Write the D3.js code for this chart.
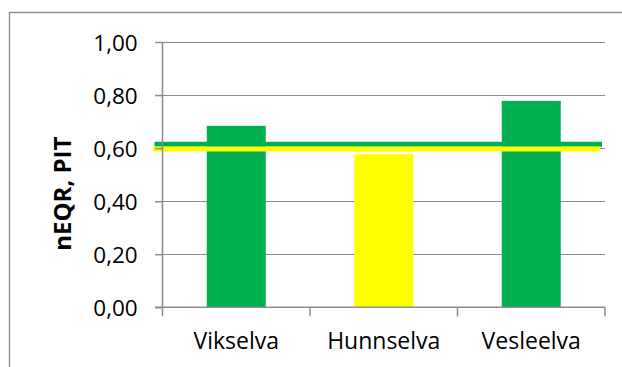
<!DOCTYPE html>
<html>
<head>
<meta charset="utf-8">
<script src="https://cdn.jsdelivr.net/npm/d3@7"></script>
<style>
  html, body { margin: 0; padding: 0; background: #fff; }
  svg { display: block; }
</style>
</head>
<body>
<svg id="chart" width="622" height="367"></svg>
<script>
// River stations and their nEQR values for the PIT index
const categories = ["Vikselva", "Hunnselva", "Vesleelva"];
const values = [0.684, 0.578, 0.778];
const barColors = ["#00B050", "#FFFF00", "#00B050"];

// Class boundaries drawn as horizontal reference lines
const boundaryValues = [0.615, 0.597];
const boundaryColors = ["#00B050", "#FFFF00"];

const yTicks = [0, 0.2, 0.4, 0.6, 0.8, 1.0];
const yTitle = "nEQR, PIT";

const svg = d3.select("#chart");
const W = 622, H = 367;
const margin = { left: 162.5, right: 17, top: 42, bottom: 59.7 };

// Outer chart frame
svg.append("rect")
  .attr("x", 9.5).attr("y", 12.5)
  .attr("width", W + 20).attr("height", H + 20)
  .attr("fill", "none").attr("stroke", "#8a8a8a").attr("stroke-width", 1.3);

const x = d3.scaleBand()
  .domain(categories)
  .range([margin.left, W - margin.right])
  .padding(0);

const y = d3.scaleLinear()
  .domain([0, 1])
  .range([H - margin.bottom, margin.top]);

const fmt = v => d3.format(".2f")(v).replace(".", ",");
const font = "'Open Sans', sans-serif";

// Horizontal gridlines
svg.append("g")
  .selectAll("line")
  .data(yTicks.filter(t => t > 0))
  .join("line")
  .attr("x1", margin.left).attr("x2", W - margin.right)
  .attr("y1", d => Math.round(y(d)) + 0.5).attr("y2", d => Math.round(y(d)) + 0.5)
  .attr("stroke", "#8c8c8c").attr("stroke-width", 1.2);

// Bars: 40% of each category band, centred
const barW = x.bandwidth() * 0.4;
svg.append("g")
  .selectAll("rect")
  .data(categories)
  .join("rect")
  .attr("x", (d) => x(d) + (x.bandwidth() - barW) / 2)
  .attr("y", (d, i) => y(values[i]))
  .attr("width", barW)
  .attr("height", (d, i) => y(0) - y(values[i]))
  .attr("fill", (d, i) => barColors[i]);

// Boundary lines
svg.append("g")
  .selectAll("line")
  .data(boundaryValues)
  .join("line")
  .attr("x1", (d, i) => margin.left - 9.5 + (i === 0 ? 1.5 : 0))
  .attr("x2", (d, i) => W - margin.right - 3 - (i === 0 ? 0 : 2))
  .attr("y1", d => y(d)).attr("y2", d => y(d))
  .attr("stroke", (d, i) => boundaryColors[i])
  .attr("stroke-width", 5);

// Y axis
const yAxis = svg.append("g")
  .attr("transform", `translate(${margin.left},0)`)
  .call(d3.axisLeft(y).tickValues(yTicks).tickSize(7.5).tickPadding(17.3).tickFormat(fmt));
yAxis.select(".domain").attr("stroke", "#8c8c8c").attr("stroke-width", 1.5)
  .attr("d", `M0,${y(1)}V${y(0) + 9}`);
yAxis.selectAll(".tick line").attr("stroke", "#8c8c8c").attr("stroke-width", 1.5);
yAxis.selectAll(".tick text")
  .attr("font-family", font).attr("font-size", 22.5).attr("fill", "#000")
  .attr("dy", "0.36em");

// X axis with ticks on the category boundaries
const xAxis = svg.append("g")
  .attr("transform", `translate(0,${y(0)})`);
xAxis.append("line")
  .attr("x1", margin.left - 7.5).attr("x2", W - margin.right)
  .attr("stroke", "#8c8c8c").attr("stroke-width", 1.5);
const boundaries = categories.map(c => x(c)).concat([x(categories[categories.length - 1]) + x.bandwidth()]);
xAxis.selectAll("line.tick")
  .data(boundaries.slice(1))
  .join("line")
  .attr("class", "tick")
  .attr("x1", d => d).attr("x2", d => d)
  .attr("y1", 0).attr("y2", 9)
  .attr("stroke", "#8c8c8c").attr("stroke-width", 1.5);
xAxis.selectAll("text")
  .data(categories)
  .join("text")
  .attr("x", d => x(d) + x.bandwidth() / 2)
  .attr("y", 42)
  .attr("text-anchor", "middle")
  .attr("font-family", font).attr("font-size", 23).attr("fill", "#000")
  .text(d => d);

// Y axis title
svg.append("text")
  .attr("transform", `translate(71,${(y(0) + y(1)) / 2 + 19}) rotate(-90)`)
  .attr("text-anchor", "middle")
  .attr("font-family", font).attr("font-weight", "bold").attr("font-size", 24)
  .attr("fill", "#000")
  .text(yTitle);
</script>
</body>
</html>
